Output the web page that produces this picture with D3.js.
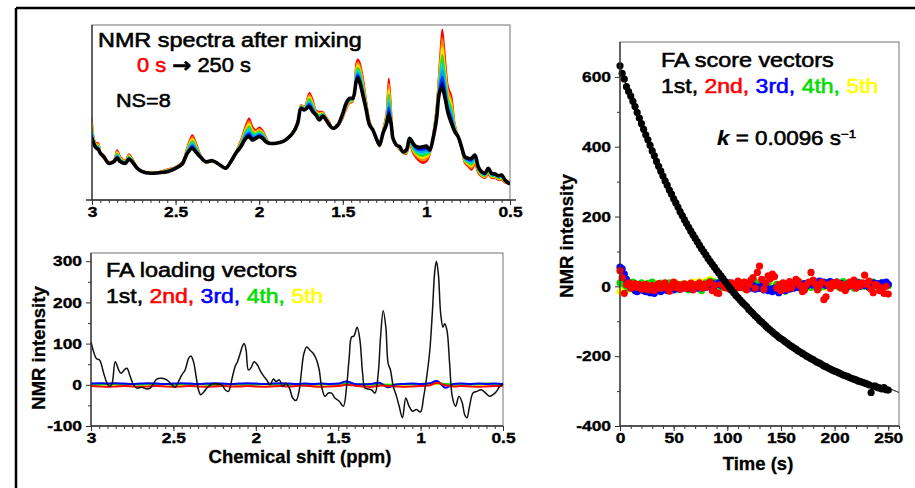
<!DOCTYPE html>
<html><head><meta charset="utf-8">
<script src="https://cdn.jsdelivr.net/npm/d3@7"></script>
<style>
body{margin:0;background:#fff}
svg{display:block}
text{font-family:"Liberation Sans",Arial,Helvetica,sans-serif}
</style>
</head><body>
<svg id="c" width="915" height="488"></svg>
<script>
// ---------------- DATA ----------------
// Top panel: spectra after mixing (arbitrary intensity units)
const spectraPpm = [3.00,2.98,2.96,2.95,2.93,2.90,2.87,2.85,2.83,2.80,2.78,2.76,2.73,2.70,2.65,2.60,2.55,2.50,2.46,2.43,2.40,2.38,2.35,2.32,2.28,2.25,2.22,2.20,2.17,2.14,2.11,2.08,2.06,2.04,2.02,2.00,1.98,1.96,1.94,1.90,1.86,1.83,1.80,1.77,1.75,1.73,1.70,1.68,1.66,1.64,1.62,1.60,1.58,1.56,1.53,1.50,1.48,1.46,1.44,1.42,1.41,1.40,1.38,1.36,1.34,1.32,1.30,1.28,1.26,1.24,1.225,1.21,1.20,1.18,1.16,1.14,1.12,1.10,1.08,1.06,1.04,1.02,1.00,0.98,0.96,0.94,0.92,0.905,0.89,0.87,0.85,0.83,0.81,0.79,0.77,0.75,0.73,0.71,0.69,0.67,0.65,0.63,0.61,0.59,0.57,0.55,0.53,0.50];
const spectrum250s = [61.7,53,50,46.7,43.3,36.7,38.3,41.7,38.3,36.7,
 40.7,38.3,31.7,28.3,26.7,27.3,28.3,31.7,36,46.7,
 51.7,48.3,42.7,38.3,39.3,36.7,33.3,31.7,38.3,46.7,
 53.3,61.7,63.3,60,61.7,63.3,61.7,58.3,56.7,56.7,
 58.3,61.7,66.7,76.7,91.7,90,93.3,88.3,85,80,
 84,80,75,71.7,75,86.7,96.7,101.7,101.7,118.3,
 121.7,118.3,105,90,75,70,61.7,55,66.7,75,
 85,75,61.7,55,53.3,48.3,50,61.7,56.7,53.3,
 52.7,53.3,54,50,61.7,80,108.3,111.7,103.3,86.7,
 76.7,68.3,63.3,53.3,43.3,41.7,41.7,45,33.3,28.3,
 26.7,31.7,26.7,26,24.3,25,20,16];
const spectrum0s = [81.7,58,56.7,48.3,45,38.3,40,50,43.3,40,
 46,41.7,33.3,29.3,27.7,28.3,30.7,33.3,38.3,53.3,
 65,58.3,45,37.3,38.3,36.7,33.3,32.7,39.3,48.3,
 60,75,81.7,73.3,70,72.7,70,63.3,57.3,56.7,
 58.3,62.3,68,80,95,93.3,107.3,100.7,90,88.3,
 88.3,83.3,78.3,71.7,73.3,81.7,90,96.7,98.3,136.7,
 140.7,138.3,123.3,100,80,70,60,53.3,70,86.7,
 121.7,90,63.3,55,50,46.7,46,55,46.7,41.7,
 38.3,36.7,38.3,45,66.7,93.3,140,170.7,146.7,113.3,
 104,76.7,63.3,50,36.7,33.3,30,35,26.7,23.3,
 21.7,25,21.7,21.7,20,20,17.3,16];
// rainbow band colours from 0 s (red) toward 250 s (black)
const bandColors = ["#ff0000","#ff8000","#ffe000","#40dd00","#00e0c0","#00a0ff","#0030ff","#000090"];
const bandLevels = [1, 0.85, 0.71, 0.57, 0.44, 0.32, 0.2, 0.1];

// Bottom-left: FA loading vectors
const loadingPpm = [3.000,2.984,2.968,2.948,2.923,2.903,2.887,2.873,2.853,2.832,
 2.818,2.798,2.782,2.762,2.742,2.721,2.691,2.661,2.641,2.620,
 2.600,2.570,2.540,2.509,2.489,2.469,2.449,2.429,2.408,2.394,
 2.378,2.362,2.348,2.334,2.313,2.293,2.267,2.237,2.206,2.186,
 2.166,2.146,2.126,2.111,2.095,2.079,2.070,2.059,2.045,2.031,
 2.010,1.990,1.970,1.950,1.934,1.914,1.893,1.877,1.857,1.837,
 1.817,1.796,1.776,1.756,1.736,1.722,1.708,1.691,1.671,1.651,
 1.631,1.615,1.601,1.580,1.560,1.540,1.520,1.494,1.469,1.449,
 1.433,1.419,1.405,1.385,1.368,1.352,1.338,1.318,1.298,1.277,
 1.257,1.243,1.227,1.211,1.197,1.183,1.166,1.146,1.130,1.110,
 1.090,1.070,1.049,1.025,1.001,0.981,0.960,0.944,0.928,0.914,
 0.904,0.892,0.878,0.864,0.854,0.840,0.824,0.808,0.788,0.767,
 0.747,0.733,0.719,0.703,0.682,0.658,0.632,0.605,0.581,0.561,
 0.540,0.520,0.500];
const loading1st = [104,80,64,60,28,4,-4,2,56,36,
 28,36,40,20,0,-8,-6,-10,-8,4,
 14,16,12,0,-6,8,24,36,64,70,
 56,20,-12,-24,-16,-6,2,2,0,-12,
 -16,12,44,56,76,96,100,84,36,40,
 56,48,32,20,12,0,14,8,12,-4,
 4,-8,-32,-38,-12,36,76,92,84,76,
 60,36,-4,-28,-20,-20,-32,-40,-52,-4,
 68,116,118,140,108,28,-8,-10,-12,-20,
 28,116,180,140,52,36,-4,-28,-52,-80,
 -32,-52,-64,-60,-66,-28,28,84,180,276,
 300,268,172,140,148,132,52,-28,-52,-28,
 -44,-72,-80,-52,-20,-16,-12,-20,-28,-24,
 -16,-4,2];
const minorLoadingPpm = [3.00,2.95,2.90,2.85,2.80,2.75,2.70,2.65,2.60,2.55,2.50,2.45,2.40,2.35,2.30,2.25,2.20,2.15,2.10,2.05,2.00,1.95,1.90,1.85,1.80,1.75,1.70,1.65,1.60,1.55,1.50,1.45,1.40,1.35,1.30,1.25,1.20,1.15,1.10,1.05,1.00,0.95,0.90,0.85,0.80,0.75,0.70,0.65,0.60,0.55,0.50];
const loading2nd = [-3,-4,-5,-4,-3,-4,-5,-4,-3,-4,-5,-4,-3,-4,-5,-4,-3,-4,-4,-3,-4,-5,-4,-3,-4,-3,-2,-4,-5,-4,-3,0,-2,-4,-5,-2,-3,-4,-5,-4,-3,-2,5,-1,-4,-3,-4,-5,-4,-3,-2];
const loading3rd = [3,4,3,4,3,2,3,4,3,2,3,4,3,2,3,4,3,2,3,4,3,2,3,4,3,2,3,2,3,2,3,8,2,1,2,5,-6,1,2,3,2,3,9,-7,2,3,2,3,2,3,2];
const loading4th = [2,1,2,2,1,2,1,2,1,2,1,2,1,2,1,0,1,2,1,2,1,2,1,2,0,1,2,1,2,1,2,3,1,2,1,2,0,1,2,1,2,3,4,2,1,2,1,2,3,2,1];
const loading5th = [0,1,0,-1,0,1,0,-1,0,1,0,-1,0,1,0,-1,0,1,0,-1,0,1,0,-1,0,1,0,-1,0,1,0,2,0,-1,0,1,0,-1,0,1,0,1,2,0,-1,0,1,0,-1,0,1];

// Right: FA score vectors, one spectrum every 2 s
const scoreTimes = d3.range(0, 251, 2);
const score1st = [632,610,594,572,558,545,530,515,498,482,
 466,450,434,420,404,388,374,358,344,330,
 316,302,290,276,264,251,239,227,214,203,
 191,180,169,158,148,138,128,118,108,99,
 90,80,72,63,55,46,38,30,22,14,
 5,-3,-11,-18,-26,-32,-39,-46,-52,-58,
 -66,-72,-78,-85,-90,-97,-102,-108,-114,-120,
 -125,-130,-136,-140,-146,-150,-154,-159,-163,-168,
 -172,-176,-180,-185,-188,-192,-196,-200,-203,-207,
 -210,-214,-218,-220,-224,-228,-230,-234,-237,-240,
 -243,-245,-248,-251,-254,-256,-258,-261,-264,-266,
 -268,-271,-273,-275,-277,-279,-282,-304,-286,-286,
 -290,-291,-294,-290,-296,-297];
const score2nd = [45,25,-20,5,10,-5,0,8,-3,5,
 -8,2,6,-10,-4,3,-12,0,8,-6,
 4,10,-5,-14,2,12,-3,5,-8,0,
 7,-6,3,9,-10,4,0,10,-5,6,
 -2,8,12,-12,3,-18,-20,5,2,-4,
 6,-8,10,4,-6,15,-3,8,12,-10,
 5,18,25,-5,40,58,20,-8,10,30,
 22,35,28,-5,5,-12,10,3,-8,14,
 -4,8,20,15,2,-15,-10,5,12,40,
 18,6,-10,3,12,-38,-30,5,-6,10,
 2,12,8,-5,6,-12,0,12,4,18,
 -5,8,2,10,32,5,15,-8,-18,6,
 2,-12,-5,-20,0,-22];
const score3rd = [55,50,35,20,10,0,-5,-12,-15,-10,
 -8,-12,-15,-10,-18,-15,-20,-12,-8,-15,
 -10,-5,-12,-8,-3,-10,-6,0,-8,-5,
 -4,2,-6,0,-8,3,-5,0,-4,2,
 -3,5,0,8,2,6,10,4,0,8,
 5,10,2,6,0,4,-3,2,5,-2,
 0,-5,3,-8,-2,-6,0,-10,-4,-12,
 -8,-15,-5,-12,-18,-10,-6,-12,-3,-8,
 0,-5,4,-3,6,0,8,2,5,10,
 4,12,8,15,6,12,3,8,14,10,
 6,12,4,8,0,6,-2,4,8,2,
 5,10,0,6,3,8,-2,4,10,5,
 8,2,10,5,12,6];
const score4th = [10,15,5,0,-5,8,12,5,-2,6,
 10,4,-3,8,2,12,6,-5,3,9,
 2,-6,5,10,-4,0,8,-8,2,6,
 -3,4,-10,2,6,-5,0,8,-12,3,
 10,6,15,8,12,4,9,-2,6,0,
 -4,5,-8,2,6,-3,0,10,-6,4,
 8,-2,5,12,0,-5,6,3,-4,8,
 -8,-12,-4,6,-10,2,-6,-14,0,5,
 -5,8,3,-2,10,4,-6,0,8,-3,
 6,2,10,-4,5,0,8,12,3,6,
 10,4,-2,8,14,6,0,10,4,-5,
 8,12,3,6,0,10,-3,5,12,2,
 6,-4,10,3,8,2];
const score5th = [-15,5,0,-5,3,-8,2,6,-3,0,
 4,-2,6,0,-4,3,8,-1,2,5,
 -3,6,2,-5,0,4,10,3,-2,6,
 8,2,-4,5,12,0,6,14,3,10,
 15,8,20,12,6,10,4,8,0,5,
 2,-3,6,0,4,-2,8,3,-5,2,
 6,0,3,8,-2,5,0,4,10,2,
 5,0,-3,6,2,8,0,-4,3,6,
 2,6,0,4,-2,8,3,0,5,-3,
 4,8,2,10,0,5,-2,6,3,0,
 5,0,8,3,-4,6,2,0,4,7,
 10,3,6,0,8,4,-2,5,2,6,
 0,4,8,2,5,3];
// first-order fit through the 1st score (k = 0.0096 1/s)
const fitTimes  = [0,10,20,30,40,50,60,70,80,90,100,110,120,130,140,150,160,170,180,190,200,210,220,230,240,250,260];
const fitValues = [630,537,453,376,307,243,186,134,86,43,4,-31,-64,-93,-120,-144,-166,-186,-204,-220,-235,-249,-261,-273,-283,-292,-304];

const seriesNames  = ["1st,","2nd,","3rd,","4th,","5th"];
const seriesColors = ["#000000","#ff0000","#0000ff","#00dd00","#ffff00"];
const ppmTicks = [3,2.5,2,1.5,1,0.5];
const ppmTickLabels = ["3","2.5","2","1.5","1","0.5"];
const loadTicks = [-100,0,100,200,300];
const loadTickLabels = ["-100","0","100","200","300"];
const timeTicks = [0,50,100,150,200,250];
const timeTickLabels = ["0","50","100","150","200","250"];
const scoreTicks = [-400,-200,0,200,400,600];
const scoreTickLabels = ["-400","-200","0","200","400","600"];

// ---------------- DRAWING ----------------
const FONT = '"Liberation Sans",Arial,Helvetica,sans-serif';
const svg = d3.select("#c");
const SX = 1.2; // horizontal stretch of lettering in the figure

// outer frame (left + top)
svg.append("line").attr("x1",16).attr("y1",8).attr("x2",16).attr("y2",488).attr("stroke","#000").attr("stroke-width",2.5);
svg.append("line").attr("x1",16).attr("y1",8).attr("x2",915).attr("y2",8).attr("stroke","#000").attr("stroke-width",2.5);

function frame(x0,y0,x1,y1){
  svg.append("rect").attr("x",x0).attr("y",y0).attr("width",x1-x0).attr("height",y1-y0)
    .attr("fill","none").attr("stroke","#8a8a8a").attr("stroke-width",1.2);
}
function axisLines(x0,y0,x1,y1,ext){
  svg.append("line").attr("x1",x0).attr("y1",y0).attr("x2",x0).attr("y2",y1).attr("stroke","#333").attr("stroke-width",1.3);
  svg.append("line").attr("x1",x0-(ext||0)).attr("y1",y1).attr("x2",x1+(ext||0)).attr("y2",y1).attr("stroke","#333").attr("stroke-width",1.3);
}
function boldTicks(sel){
  sel.attr("font-size",14.5).attr("font-weight","bold").attr("font-family",FONT).attr("fill","#000")
    .attr("stroke","#000").attr("stroke-width",0.35);
}
function xAxis(scale,y,majors,labels,minors){
  const g = svg.append("g").attr("transform",`translate(0,${y})`);
  g.append("g").call(d3.axisBottom(scale).tickValues(minors).tickSize(3).tickSizeOuter(0).tickFormat(()=>""))
    .call(s=>s.select(".domain").remove());
  const m = g.append("g").call(d3.axisBottom(scale).tickValues(majors).tickSize(5).tickSizeOuter(0).tickPadding(2).tickFormat((d,i)=>labels[i]));
  m.select(".domain").remove();
  boldTicks(m.selectAll("text").attr("transform",`scale(${SX},1)`));
  g.selectAll("line").attr("stroke","#333");
}
function yAxis(scale,x,majors,labels,minors){
  const g = svg.append("g").attr("transform",`translate(${x},0)`);
  g.append("g").call(d3.axisLeft(scale).tickValues(minors).tickSize(3).tickSizeOuter(0).tickFormat(()=>""))
    .call(s=>s.select(".domain").remove());
  const m = g.append("g").call(d3.axisLeft(scale).tickValues(majors).tickSize(5).tickSizeOuter(0).tickPadding(4).tickFormat((d,i)=>labels[i]));
  m.select(".domain").remove();
  boldTicks(m.selectAll("text").attr("x",-9/SX).attr("transform",`scale(${SX},1)`));
  g.selectAll("line").attr("stroke","#333");
}
function label(x,y,parts,size,sx){
  const t = svg.append("text").attr("transform",`translate(${x},${y}) scale(${sx||SX},1)`)
    .attr("font-size",size).attr("font-family",FONT);
  parts.forEach(p=>{
    const col = p.color||"#000";
    const s = t.append("tspan").text(p.text).attr("fill",col).attr("stroke",col).attr("stroke-width",p.bold?0.2:0.55);
    if(p.italic) s.attr("font-style","italic");
    if(p.bold) s.attr("font-weight","bold");
    if(p.sup) s.attr("font-size",size*0.6).attr("dy",-size*0.38);
    if(p.arrow) s.attr("font-family","DejaVu Sans").attr("font-weight","bold").attr("font-size",size*1.05);
  });
  return t;
}
function axisTitle(x,y,text,rot){
  svg.append("text").attr("transform",`translate(${x},${y})${rot?" rotate(-90)":""}`)
    .attr("text-anchor","middle").attr("font-size",18.5).attr("font-weight","bold").attr("font-family",FONT)
    .attr("stroke","#000").attr("stroke-width",0.3).text(text);
}
const ppmMinors = d3.range(0,51).map(i=>0.5+i*0.05);

// ===== Panel A: NMR spectra =====
const xA = d3.scaleLinear().domain([3,0.5]).range([92,510]);
const yA = d3.scaleLinear().domain([0,175]).range([200,25]);
frame(92,25,510,200);
svg.append("clipPath").attr("id","clipA").append("rect").attr("x",92).attr("y",25).attr("width",418).attr("height",175);
const gA = svg.append("g").attr("clip-path","url(#clipA)");
const idxA = d3.range(spectraPpm.length);
bandColors.forEach((c,bi)=>{
  const f = bandLevels[bi];
  const yv = i => yA(spectrum250s[i] + f*(spectrum0s[i]-spectrum250s[i]));
  const area = d3.area().curve(d3.curveCatmullRom)
    .x(i=>xA(spectraPpm[i])).y0(i=>yA(spectrum250s[i])).y1(yv);
  const line = d3.line().curve(d3.curveCatmullRom).x(i=>xA(spectraPpm[i])).y(yv);
  gA.append("path").attr("d",area(idxA)).attr("fill",c);
  gA.append("path").attr("d",line(idxA)).attr("fill","none").attr("stroke",c).attr("stroke-width",1.6);
});
gA.append("path").attr("d",d3.line().curve(d3.curveCatmullRom).x(i=>xA(spectraPpm[i])).y(i=>yA(spectrum250s[i]))(idxA))
  .attr("fill","none").attr("stroke","#000").attr("stroke-width",3.6).attr("stroke-linejoin","round");
axisLines(92,25,510,200,6);
xAxis(xA,200,ppmTicks,ppmTickLabels,ppmMinors);
label(98,47,[{text:"NMR spectra after mixing"}],19.5);
label(137,72,[{text:"0 s ",color:"#ff0000"},{text:"\u2192",arrow:true},{text:" 250 s"}],19.5,1.12);
label(116,107,[{text:"NS=8"}],18.5,1.17);

// ===== Panel B: FA loading vectors =====
const xB = d3.scaleLinear().domain([3,0.5]).range([91,503]);
const yB = d3.scaleLinear().domain([-100,320]).range([426,253]);
frame(91,253,503,426);
const gB = svg.append("g");
const minorSeries = [[loading5th,seriesColors[4]],[loading4th,seriesColors[3]],[loading3rd,seriesColors[2]],[loading2nd,seriesColors[1]]];
minorSeries.forEach(([vals,c])=>{
  gB.append("path").attr("d",d3.line().curve(d3.curveCatmullRom).x((d,i)=>xB(minorLoadingPpm[i])).y(d=>yB(d))(vals))
    .attr("fill","none").attr("stroke",c).attr("stroke-width",2);
});
gB.append("path").attr("d",d3.line().curve(d3.curveCatmullRom).x((d,i)=>xB(loadingPpm[i])).y(d=>yB(d))(loading1st))
  .attr("fill","none").attr("stroke","#111").attr("stroke-width",1.5);
axisLines(91,253,503,426,0);
xAxis(xB,426,ppmTicks,ppmTickLabels,ppmMinors);
yAxis(yB,91,loadTicks,loadTickLabels,[-50,50,150,250]);
label(106,277,[{text:"FA loading vectors"}],19.5);
label(106,303,seriesNames.map((n,i)=>({text:n+(i<4?" ":""),color:seriesColors[i]})),19.5,1.18);
axisTitle(300,463,"Chemical shift (ppm)");
axisTitle(45,348,"NMR intensity",true);

// ===== Panel C: FA score vectors =====
const xC = d3.scaleLinear().domain([0,260]).range([620,899]);
const yC = d3.scaleLinear().domain([-400,700]).range([426,42]);
frame(620,42,899,426);
const gC = svg.append("g");
gC.append("path").attr("d",d3.line().curve(d3.curveCatmullRom).x((d,i)=>xC(fitTimes[i])).y(d=>yC(d))(fitValues))
  .attr("fill","none").attr("stroke","#000").attr("stroke-width",1);
const scoreSeries = [[score5th,seriesColors[4]],[score4th,seriesColors[3]],[score3rd,seriesColors[2]],[score2nd,seriesColors[1]],[score1st,seriesColors[0]]];
scoreSeries.forEach(([vals,c])=>{
  gC.append("g").selectAll("circle").data(vals).join("circle")
    .attr("cx",(d,i)=>xC(scoreTimes[i])).attr("cy",d=>yC(d)).attr("r",3.6).attr("fill",c);
});
axisLines(620,42,899,426,0);
xAxis(xC,426,timeTicks,timeTickLabels,d3.range(0,261,10));
yAxis(yC,620,scoreTicks,scoreTickLabels,[-300,-100,100,300,500]);
label(661,67,[{text:"FA score vectors"}],19.5);
label(661,93,seriesNames.map((n,i)=>({text:n+(i<4?" ":""),color:seriesColors[i]})),19.5,1.18);
label(717,145,[{text:"k",italic:true,bold:true},{text:" = 0.0096 s"},{text:"\u22121",sup:true}],19.5,1.15);
axisTitle(758,470,"Time (s)");
axisTitle(573,236,"NMR intensity",true);
</script>
</body></html>
